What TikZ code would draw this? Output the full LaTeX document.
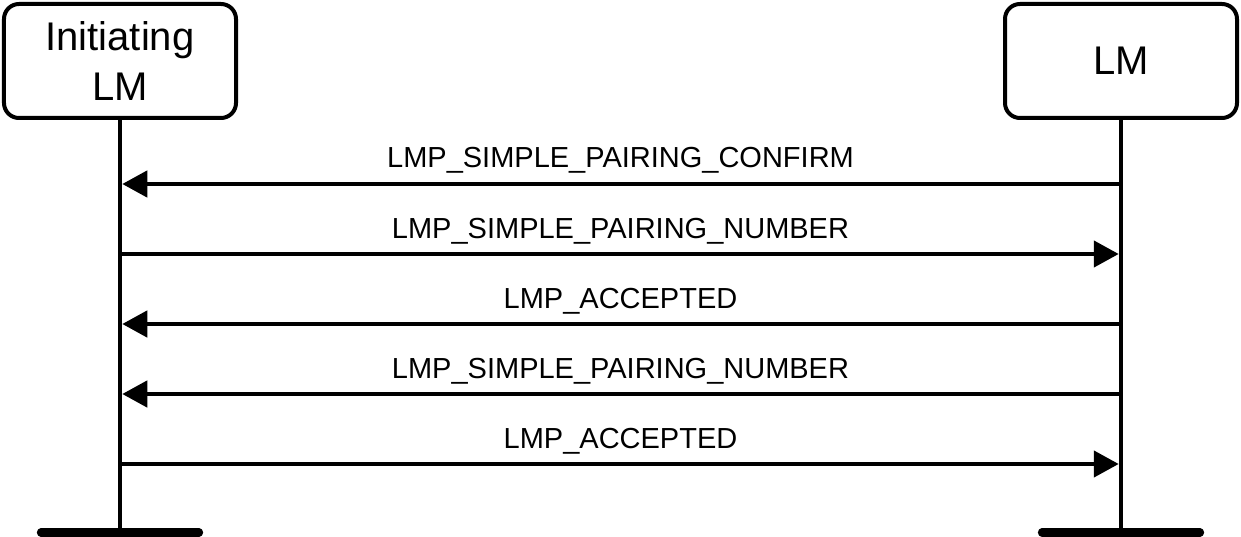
\documentclass[tikz,border=0pt]{standalone}
\usepackage{fontspec}
\setmainfont{Liberation Sans}
\usepackage{tikz}
\usetikzlibrary{arrows.meta,calc,positioning}

\begin{document}
\begin{tikzpicture}[
  entity/.style={draw, rounded corners=0.3cm, line width=0.08cm, minimum width=4.64cm, minimum height=2.28cm, align=center, inner sep=0pt, font=\fontsize{22.76}{28.45}\selectfont},
  life/.style={line width=0.09cm},
  bar/.style={line width=0.166cm, line cap=round},
  msg/.style={line width=0.09cm, -{Triangle[length=0.5cm, width=0.52cm]}, shorten >=0.045cm},
  lbl/.style={anchor=base, yshift=0.32cm, inner sep=0pt, font=\fontsize{16.5}{20}\selectfont}
]
\useasboundingbox (0,0) rectangle (24.82,-10.74);

\node[entity] (init) at (2.4,-1.22) {Initiating\\LM};
\node[entity] (lm) at (22.42,-1.22) {LM};

\coordinate (initend) at (2.4,-10.65);
\coordinate (lmend) at (22.42,-10.65);

\draw[life] (init.south) -- (initend);
\draw[life] (lm.south) -- (lmend);
\draw[bar] ($(initend)+(-1.58,0)$) -- ($(initend)+(1.58,0)$);
\draw[bar] ($(lmend)+(-1.58,0)$) -- ($(lmend)+(1.58,0)$);

% message rows
\coordinate (i1) at (2.4,-3.68);  \coordinate (r1) at (22.42,-3.68);
\coordinate (i2) at (2.4,-5.08);  \coordinate (r2) at (22.42,-5.08);
\coordinate (i3) at (2.4,-6.48);  \coordinate (r3) at (22.42,-6.48);
\coordinate (i4) at (2.4,-7.88);  \coordinate (r4) at (22.42,-7.88);
\coordinate (i5) at (2.4,-9.28);  \coordinate (r5) at (22.42,-9.28);

\draw[msg] (r1) -- node[lbl] {LMP\_SIMPLE\_PAIRING\_CONFIRM} (i1);
\draw[msg] (i2) -- node[lbl] {LMP\_SIMPLE\_PAIRING\_NUMBER} (r2);
\draw[msg] (r3) -- node[lbl] {LMP\_ACCEPTED} (i3);
\draw[msg] (r4) -- node[lbl] {LMP\_SIMPLE\_PAIRING\_NUMBER} (i4);
\draw[msg] (i5) -- node[lbl] {LMP\_ACCEPTED} (r5);
\end{tikzpicture}
\end{document}
